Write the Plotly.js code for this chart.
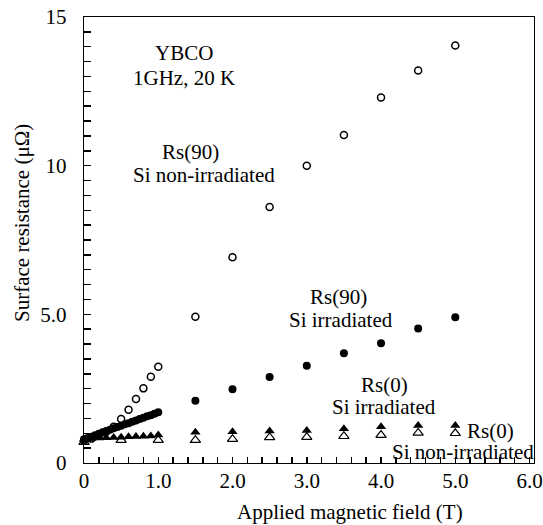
<!DOCTYPE html>
<html>
<head>
<meta charset="utf-8">
<script src="https://cdn.plot.ly/plotly-3.0.1.min.js"></script>
<style>html,body{margin:0;padding:0;background:#fff;}#chart{width:543px;height:525px;}</style>
</head>
<body>
<div id="chart"></div>
<script>
// ---- data ----
var rs90NonIrrField = [0, 0.1, 0.2, 0.3, 0.4, 0.5, 0.6, 0.7, 0.8, 0.9, 1.0, 1.5, 2.0, 2.5, 3.0, 3.5, 4.0, 4.5, 5.0];
var rs90NonIrr      = [0.75, 0.82, 0.92, 1.05, 1.22, 1.48, 1.79, 2.15, 2.51, 2.90, 3.24, 4.92, 6.92, 8.61, 10.0, 11.03, 12.29, 13.2, 14.04];

var rs90IrrField = [0, 0.05, 0.1, 0.15, 0.2, 0.25, 0.3, 0.35, 0.4, 0.45, 0.5, 0.55, 0.6, 0.65, 0.7, 0.75, 0.8, 0.85, 0.9, 0.95, 1.0, 1.5, 2.0, 2.5, 3.0, 3.5, 4.0, 4.5, 5.0];
var rs90Irr      = [0.80, 0.84, 0.88, 0.93, 0.98, 1.03, 1.08, 1.12, 1.17, 1.21, 1.25, 1.30, 1.34, 1.39, 1.43, 1.48, 1.52, 1.57, 1.61, 1.66, 1.71, 2.09, 2.48, 2.89, 3.27, 3.69, 4.03, 4.52, 4.90];

var rs0IrrField = [0, 0.1, 0.2, 0.3, 0.4, 0.5, 0.6, 0.7, 0.8, 0.9, 1.0, 1.5, 2.0, 2.5, 3.0, 3.5, 4.0, 4.5, 5.0];
var rs0Irr      = [0.80, 0.82, 0.84, 0.85, 0.86, 0.87, 0.88, 0.89, 0.90, 0.91, 0.94, 1.03, 1.05, 1.08, 1.09, 1.15, 1.22, 1.26, 1.26];

var rs0NonIrrField = [0, 0.5, 1.0, 1.5, 2.0, 2.5, 3.0, 3.5, 4.0, 4.5, 5.0];
var rs0NonIrr      = [0.70, 0.77, 0.77, 0.77, 0.80, 0.86, 0.87, 0.90, 0.94, 1.01, 1.00];

var xTickVals = [0, 1, 2, 3, 4, 5, 6];
var xTickText = ["0", "1.0", "2.0", "3.0", "4.0", "5.0", "6.0"];
var xMinorVals = [0.2, 0.4, 0.6, 0.8, 1.2, 1.4, 1.6, 1.8, 2.2, 2.4, 2.6, 2.8, 3.2, 3.4, 3.6, 3.8, 4.2, 4.4, 4.6, 4.8, 5.2, 5.4, 5.6, 5.8];
var yTickVals = [0, 5, 10, 15];
var yTickText = ["0", "5.0", "10", "15"];
var yMinorVals = [0.5, 1, 1.5, 2, 2.5, 3, 3.5, 4, 4.5, 5.5, 6, 6.5, 7, 7.5, 8, 8.5, 9, 9.5, 10.5, 11, 11.5, 12, 12.5, 13, 13.5, 14, 14.5];

var xTitle = "Applied magnetic field (T)";
var yTitle = "Surface resistance (\u03bc\u03a9)";

var noteTexts = ["YBCO", "1GHz, 20 K", "Rs(90)", "Si non-irradiated", "Rs(90)", "Si irradiated",
                 "Rs(0)", "Si irradiated", "Rs(0)", "Si non-irradiated"];
var noteX = [1.34, 1.35, 1.44, 1.62, 3.43, 3.46, 4.05, 4.04, 5.47, 5.10];
var noteY = [13.78, 12.95, 10.47, 9.69, 5.59, 4.81, 2.62, 1.87, 1.08, 0.36];

// ---- chart ----
var FONT = "Liberation Serif, Times New Roman, serif";
var FS = 21;
var traces = [
  {x: rs0NonIrrField, y: rs0NonIrr, name: "Rs(0) Si non-irradiated", type: "scatter", mode: "markers",
   cliponaxis: false, marker: {symbol: "triangle-up-open", size: 9, color: "#000", line: {width: 1.2, color: "#000"}}},
  {x: rs90NonIrrField, y: rs90NonIrr, name: "Rs(90) Si non-irradiated", type: "scatter", mode: "markers",
   cliponaxis: false, marker: {symbol: "circle-open", size: 7, color: "#000", line: {width: 1.5, color: "#000"}}},
  {x: rs0IrrField, y: rs0Irr, name: "Rs(0) Si irradiated", type: "scatter", mode: "markers",
   cliponaxis: false, marker: {symbol: "triangle-up", size: 9, color: "#000"}},
  {x: rs90IrrField, y: rs90Irr, name: "Rs(90) Si irradiated", type: "scatter", mode: "markers",
   cliponaxis: false, marker: {symbol: "circle", size: 8, color: "#000"}}
];

var annotations = noteTexts.map(function (t, i) {
  return {text: t, x: noteX[i], y: noteY[i], xref: "x", yref: "y", showarrow: false,
          xanchor: "center", yanchor: "middle", font: {family: FONT, size: FS, color: "#000"}};
});
annotations.push({text: xTitle, xref: "paper", yref: "paper", x: (350 - 84) / 450, y: (463 - 512) / 446,
  showarrow: false, xanchor: "center", yanchor: "middle", font: {family: FONT, size: FS, color: "#000"}});
annotations.push({text: yTitle, xref: "paper", yref: "paper", x: (22 - 84) / 450, y: (463 - 223) / 446,
  textangle: -90, showarrow: false, xanchor: "center", yanchor: "middle", font: {family: FONT, size: FS, color: "#000"}});

var layout = {
  width: 543, height: 525,
  margin: {l: 84, r: 9, t: 17, b: 62},
  paper_bgcolor: "#fff", plot_bgcolor: "#fff",
  showlegend: false,
  font: {family: FONT, size: FS, color: "#000"},
  xaxis: {
    range: [0, 6.06], showgrid: false, zeroline: false,
    showline: true, linecolor: "#000", linewidth: 1.3, mirror: true,
    tickmode: "array", tickvals: xTickVals, ticktext: xTickText,
    ticks: "inside", ticklen: 6, tickwidth: 1.5, tickcolor: "#000",
    ticklabelstandoff: -2,
    minor: {tickmode: "array", tickvals: xMinorVals, ticks: "inside", ticklen: 6, tickwidth: 1.5, tickcolor: "#000", showgrid: false},
    tickfont: {family: FONT, size: FS, color: "#000"}
  },
  yaxis: {
    range: [0, 15], showgrid: false, zeroline: false,
    showline: true, linecolor: "#000", linewidth: 1.3, mirror: true,
    tickmode: "array", tickvals: yTickVals, ticktext: yTickText,
    ticks: "inside", ticklen: 7, tickwidth: 1.5, tickcolor: "#000",
    ticklabelstandoff: 12,
    minor: {tickmode: "array", tickvals: yMinorVals, ticks: "inside", ticklen: 7, tickwidth: 1.5, tickcolor: "#000", showgrid: false},
    tickfont: {family: FONT, size: FS, color: "#000"}
  },
  annotations: annotations
};

Plotly.newPlot("chart", traces, layout, {displayModeBar: false, staticPlot: true});
</script>
</body>
</html>
